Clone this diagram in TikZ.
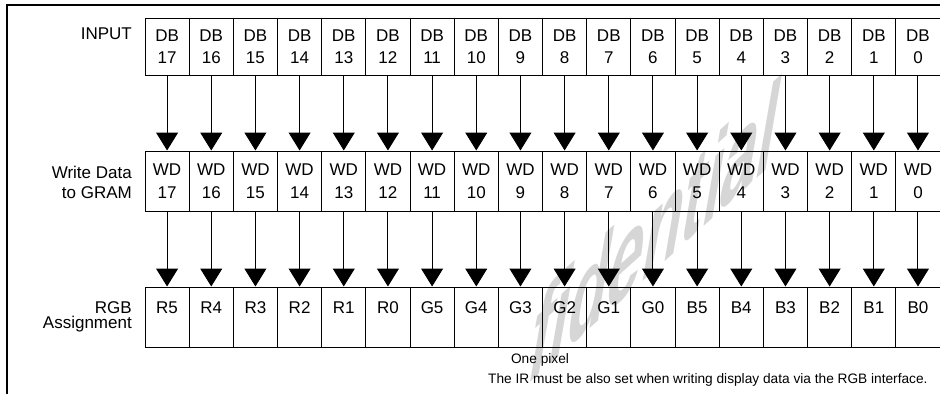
\documentclass[tikz,border=0pt]{standalone}
\usepackage{fontspec}
\setmainfont{Liberation Sans}
\usetikzlibrary{arrows.meta}

\tikzset{
  cell/.style={draw, line width=1pt, minimum width=\bw pt, inner sep=0pt,
    font=\fontsize{17}{22.5}\selectfont, align=center},
  rowlabel/.style={anchor=north east, align=right, inner sep=0pt},
  note/.style={inner sep=0pt, font=\fontsize{13.7}{15}\selectfont},
  bit/.style={line width=1pt, -{Triangle[width=22pt,length=18pt]}}
}

\begin{document}
\begin{tikzpicture}[x=1pt, y=-1pt]
  \def\bw{44.17}
  \def\xo{145}
  \useasboundingbox (0,0) rectangle (940,394);

  % Водяной знак
  \node[text=black!16, font=\bfseries\fontsize{135}{135}\selectfont, inner sep=0pt,
    anchor=base west, cm={0.476,0.428,0.17,0.985,(0,0)}] (mark) at (524,388) {fidential};

  % Рамка
  \draw[line width=2.2pt] (7,394) -- (7,5) -- (940,5);

  % Подписи строк
  \node[rowlabel, font=\fontsize{17}{20}\selectfont] (inlab) at (132,28) {INPUT};
  \node[rowlabel, font=\fontsize{17}{20}\selectfont] (wdlab) at (132,166) {Write Data\\to GRAM};
  \node[rowlabel, font=\fontsize{17}{15.5}\selectfont] (rgblab) at (132,301) {RGB\\Assignment};

  % Биты и стрелки
  \foreach \ch [count=\i from 0] in {R5,R4,R3,R2,R1,R0,G5,G4,G3,G2,G1,G0,B5,B4,B3,B2,B1,B0} {
    \pgfmathtruncatemacro\n{17-\i}
    \pgfmathsetmacro\x{\xo+\i*\bw+\bw/2}
    \node[cell, minimum height=57pt] (db\n) at (\x,46.5) {DB\\\n};
    \node[cell, minimum height=60pt] (wd\n) at (\x,181) {WD\\\n};
    \node[cell, minimum height=60pt, text height=19pt, text depth=27pt] (rgb\n) at (\x,317) {\ch};
    \draw[bit] (db\n) -- (wd\n);
    \draw[bit] (wd\n) -- (rgb\n);
  }

  % Примечания
  \node[note, anchor=base] (pix) at (540,363) {One pixel};
  \node[note, anchor=base west] (irnote) at (488,383)
    {The IR must be also set when writing display data via the RGB interface.};
\end{tikzpicture}
\end{document}
